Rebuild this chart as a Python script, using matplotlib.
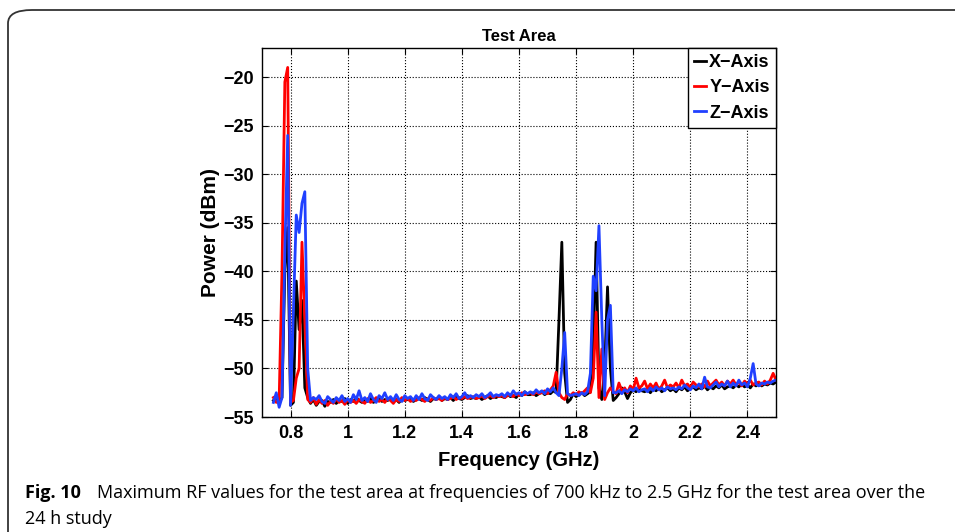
import numpy as np
import matplotlib.pyplot as plt
from matplotlib.patches import FancyBboxPatch

# ------------------------------------------------------------
# DATA  (frequency grid 0.74 .. 2.50 GHz, step 0.01)
# ------------------------------------------------------------
freq_ghz = np.round(np.arange(0.74, 2.5001, 0.01), 2)

x_axis = [
    -53.3, -53.0, -53.5, -53.0, -40.0, -35.5, -53.8, -53.5, -41.0, -46.0,
    -43.0, -52.0, -53.0, -53.6, -53.2, -53.8, -53.4, -53.3, -53.9, -53.4,
    -53.5, -53.2, -53.6, -53.3, -53.4, -53.1, -53.6, -53.2, -53.4, -53.0,
    -53.3, -53.5, -53.2, -53.4, -53.1, -53.5, -53.3, -53.0, -53.4, -53.2,
    -53.3, -53.1, -53.4, -53.2, -53.5, -53.1, -53.3, -53.2, -53.0, -53.4,
    -53.2, -53.1, -53.3, -53.0, -53.2, -53.4, -53.1, -53.2, -52.9, -53.3,
    -53.1, -53.2, -53.0, -53.3, -52.9, -53.1, -53.2, -53.0, -52.8, -53.1,
    -53.0, -53.1, -52.9, -53.2, -53.0, -52.8, -53.1, -52.9, -53.0, -52.8,
    -52.9, -53.0, -52.7, -52.9, -52.8, -53.0, -52.6, -52.8, -52.4, -52.7,
    -52.7, -52.5, -52.8, -52.6, -52.4, -52.7, -52.5, -52.6, -52.3, -52.5,
    -45.0, -37.0, -50.5, -53.5, -53.2, -52.6, -52.9, -52.7, -52.5, -52.8,
    -52.6, -52.4, -48.0, -37.0, -52.0, -53.2, -50.0, -41.6, -50.0, -53.3,
    -53.0, -52.6, -52.0, -52.4, -53.1, -52.5, -52.2, -52.4, -52.1, -52.3,
    -52.4, -52.2, -52.5, -52.1, -52.3, -52.0, -52.4, -52.2, -52.0, -52.3,
    -52.1, -52.4, -52.0, -52.2, -51.9, -52.3, -52.1, -51.9, -52.2, -52.0,
    -52.1, -51.8, -52.2, -51.9, -52.1, -51.8, -52.0, -51.7, -52.1, -51.9,
    -51.8, -52.0, -51.7, -51.9, -51.6, -51.9, -51.7, -52.0, -51.6, -51.8,
    -51.5, -51.8, -51.6, -51.7, -51.5, -51.6, -51.4,
]

y_axis = [
    -53.0, -53.5, -53.3, -40.0, -20.5, -19.0, -53.5, -53.3, -51.0, -50.0,
    -37.0, -45.0, -53.2, -53.5, -53.0, -53.7, -53.2, -53.6, -53.3, -53.8,
    -53.4, -53.6, -53.1, -53.5, -53.3, -53.7, -53.2, -53.5, -53.3, -53.6,
    -53.2, -53.4, -53.6, -53.1, -53.5, -53.3, -53.0, -53.4, -53.2, -53.5,
    -53.1, -53.3, -53.6, -53.2, -53.4, -53.0, -53.3, -53.1, -53.4, -53.2,
    -53.3, -53.0, -53.2, -53.4, -53.1, -53.3, -53.0, -53.2, -53.1, -53.3,
    -53.0, -53.2, -53.1, -52.9, -53.2, -53.0, -53.1, -52.9, -53.1, -53.0,
    -52.9, -53.1, -53.0, -52.8, -53.1, -52.9, -52.8, -53.0, -52.8, -52.9,
    -52.8, -53.0, -52.8, -52.7, -52.9, -52.6, -52.8, -52.5, -52.7, -52.6,
    -52.5, -52.7, -52.4, -52.6, -52.5, -52.3, -52.6, -52.2, -51.8, -50.4,
    -52.5, -53.0, -53.2, -52.6, -52.8, -52.5, -52.7, -52.4, -52.6, -52.3,
    -52.0, -52.5, -51.0, -44.2, -53.0, -48.0, -53.2, -52.5, -52.0, -52.4,
    -52.6, -51.5, -52.3, -52.0, -52.5, -51.8, -52.2, -51.0, -52.0, -51.8,
    -51.3, -52.1, -51.6, -52.0, -51.5, -52.2, -51.8, -51.2, -52.0, -51.7,
    -51.9, -51.5, -52.0, -51.2, -51.8, -51.6, -52.0, -51.4, -51.7, -51.9,
    -51.6, -51.9, -51.3, -51.8, -51.5, -51.2, -51.7, -51.4, -51.8, -51.3,
    -51.6, -51.2, -51.7, -51.4, -51.8, -51.3, -51.6, -51.2, -51.7, -51.5,
    -51.4, -51.7, -51.3, -51.6, -51.2, -50.5, -51.2,
]

z_axis = [
    -53.5, -52.5, -54.0, -53.0, -38.0, -26.0, -53.8, -44.0, -34.2, -36.0,
    -33.0, -31.8, -50.0, -53.3, -53.0, -53.2, -52.8, -53.4, -53.6, -52.9,
    -53.2, -53.5, -53.0, -53.3, -52.8, -53.4, -53.1, -53.5, -52.7, -53.2,
    -52.3, -53.3, -53.0, -53.4, -52.6, -53.2, -53.5, -52.8, -53.1, -52.5,
    -53.2, -52.9, -53.3, -52.7, -53.2, -53.4, -52.8, -53.1, -52.9, -53.3,
    -52.8, -53.2, -52.6, -53.1, -53.3, -52.7, -53.0, -53.2, -52.8, -53.1,
    -52.9, -53.2, -52.7, -53.0, -52.6, -53.1, -52.9, -52.5, -53.0, -52.8,
    -53.0, -52.7, -52.9, -52.6, -53.0, -52.8, -52.5, -52.9, -52.7, -52.8,
    -52.6, -52.9, -52.5, -52.8, -52.3, -52.7, -52.5, -52.8, -52.4, -52.6,
    -52.4, -52.6, -52.2, -52.5, -52.3, -52.6, -52.1, -52.4, -52.0, -52.5,
    -52.8, -50.0, -46.3, -52.6, -52.8, -52.7, -52.6, -52.8, -52.5, -52.7,
    -52.4, -50.5, -40.5, -42.0, -35.3, -45.0, -52.8, -45.0, -43.5, -52.5,
    -52.5, -52.3, -52.6, -52.2, -52.4, -52.1, -52.3, -52.0, -52.4, -52.2,
    -52.1, -52.4, -52.0, -52.3, -51.9, -52.2, -52.0, -52.3, -51.9, -52.1,
    -52.0, -52.2, -51.9, -52.1, -51.7, -52.0, -52.2, -51.8, -52.0, -51.6,
    -52.1, -50.9, -51.9, -52.0, -51.7, -51.4, -51.9, -51.6, -51.8, -51.3,
    -51.9, -51.5, -51.8, -51.2, -51.7, -51.5, -51.9, -51.0, -49.5, -51.6,
    -51.8, -51.5, -51.6, -51.4, -51.5, -51.3, -51.2,
]

x_ticks = [0.8, 1.0, 1.2, 1.4, 1.6, 1.8, 2.0, 2.2, 2.4]
x_tick_labels = ["0.8", "1", "1.2", "1.4", "1.6", "1.8", "2", "2.2", "2.4"]
y_ticks = [-55, -50, -45, -40, -35, -30, -25, -20]

# ------------------------------------------------------------
# STYLE
# ------------------------------------------------------------
BOLD_FONT = ["Liberation Sans", "DejaVu Sans"]
CAPTION_FONT = ["Open Sans", "DejaVu Sans"]

fig = plt.figure(figsize=(9.55, 5.32), dpi=100)

# rounded frame around the figure (only top/left visible)
frame = FancyBboxPatch((8 / 955, -0.2), 1.2, 1.2 - 10 / 532,
                       boxstyle="round,pad=0,rounding_size=0.025",
                       transform=fig.transFigure, fill=False,
                       edgecolor="#333333", linewidth=1.3)
fig.patches.append(frame)

ax = fig.add_axes([262 / 955, 1 - 417 / 532, (776 - 262) / 955, (417 - 48) / 532])

ax.plot(freq_ghz, x_axis, color="black", lw=2.0, label="X\u2212Axis")
ax.plot(freq_ghz, y_axis, color="#ff0000", lw=2.0, label="Y\u2212Axis")
ax.plot(freq_ghz, z_axis, color="#2040ff", lw=2.0, label="Z\u2212Axis")

ax.set_xlim(0.7, 2.5)
ax.set_ylim(-55, -17)
ax.set_xticks(x_ticks)
ax.set_xticklabels(x_tick_labels)
ax.set_yticks(y_ticks)
ax.set_yticklabels([str(v).replace("-", "\u2212") for v in y_ticks])

ax.grid(True, color="black", linestyle=":", linewidth=0.8)
ax.tick_params(direction="in", length=4, width=0.8, top=True, right=True,
               labelsize=13, pad=6)
for lab in ax.get_xticklabels() + ax.get_yticklabels():
    lab.set_family(BOLD_FONT)
    lab.set_fontweight("bold")
for sp in ax.spines.values():
    sp.set_linewidth(1.0)

ax.set_title("Test Area", family=BOLD_FONT, fontweight="bold", fontsize=12, pad=5)
ax.set_xlabel("Frequency (GHz)", family=BOLD_FONT, fontweight="bold", fontsize=14.5, labelpad=6)
ax.set_ylabel("Power (dBm)", family=BOLD_FONT, fontweight="bold", fontsize=15, labelpad=2)

leg = ax.legend(loc="upper right", borderaxespad=0.0, fancybox=False,
                edgecolor="black", framealpha=1, handlelength=0.7,
                handletextpad=0.15, labelspacing=0.45, borderpad=0.35,
                prop={"family": BOLD_FONT, "weight": "bold", "size": 13})
leg.get_frame().set_linewidth(1.0)

# caption
fig.text(25 / 955, 1 - 498 / 532, "Fig. 10", family=CAPTION_FONT,
         fontweight="bold", fontsize=13, va="baseline")
fig.text(97 / 955, 1 - 498 / 532,
         "Maximum RF values for the test area at frequencies of 700 kHz to 2.5 GHz for the test area over the",
         family=CAPTION_FONT, fontsize=13, va="baseline")
fig.text(25 / 955, 1 - 524 / 532, "24 h study", family=CAPTION_FONT,
         fontsize=13, va="baseline")

fig.savefig("out.png", dpi=100)
